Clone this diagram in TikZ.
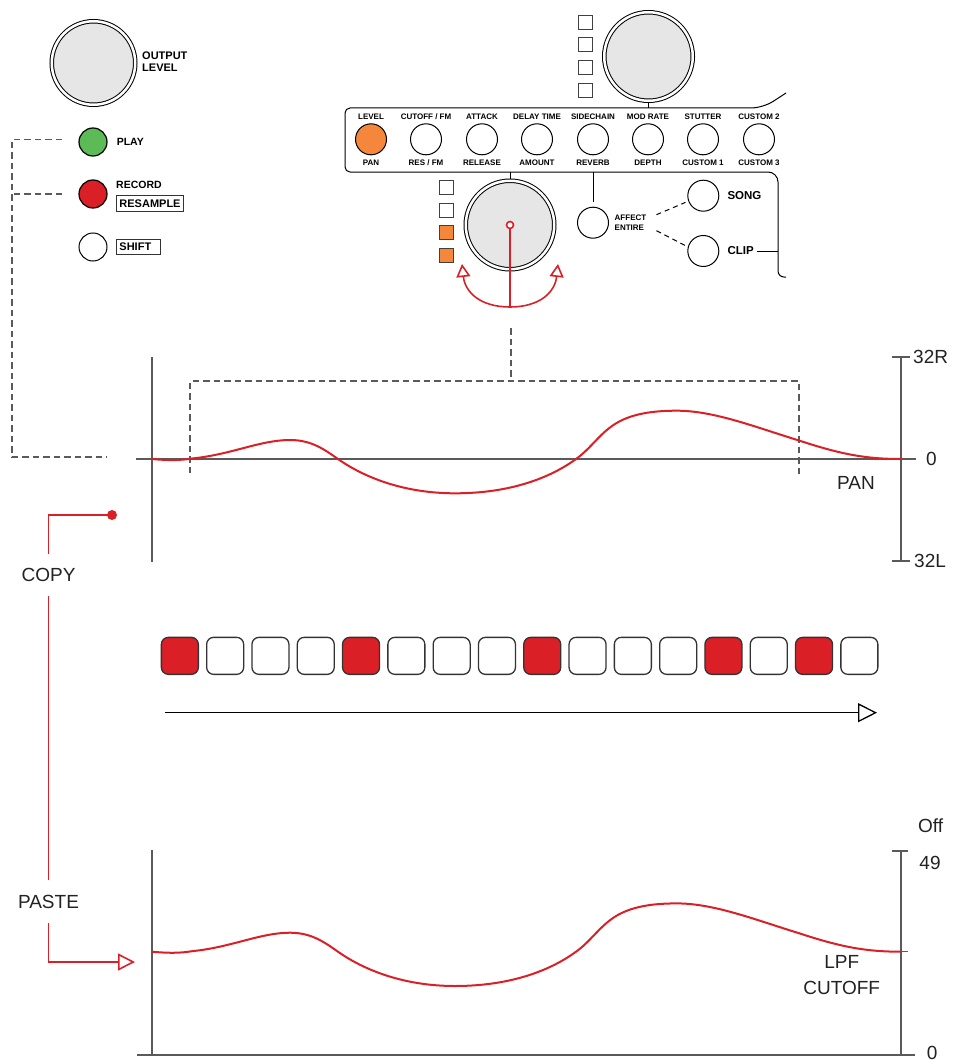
\documentclass[tikz,border=0pt]{standalone}
\usepackage{fontspec}
\setmainfont{Liberation Sans}
\usetikzlibrary{positioning,arrows.meta,backgrounds}
\definecolor{KnobGray}{HTML}{E6E6E6}
\definecolor{PadRed}{HTML}{DA1F26}
\definecolor{PadOrange}{HTML}{F4873B}
\definecolor{PlayGreen}{HTML}{5DBB57}
\definecolor{AxisGray}{HTML}{5A5A5A}
\definecolor{TextDark}{HTML}{222222}
\newcommand\fsl{/}
\newcommand\lfopath{(152,459) .. controls (168,460.5) and (180,460.5) .. (192,458.5)
  .. controls (232,454.5) and (260,440) .. (290,440)
  .. controls (312,440) and (325,450) .. (338,459)
  .. controls (365,478) and (405,493.3) .. (455,493.3)
  .. controls (510,493.3) and (550,478) .. (576,459)
  .. controls (590,449) and (598,436) .. (612,426)
  .. controls (630,413) and (655,410.7) .. (677,410.7)
  .. controls (714,410.7) and (755,427) .. (799,440.5)
  .. controls (840,454) and (865,459) .. (901,459)}

\begin{document}
\begin{tikzpicture}[x=1pt,y=-1pt,
    every node/.style={font=\fontsize{8}{10}\selectfont\bfseries, inner sep=0pt},
    knob/.style={circle,draw,line width=1pt,minimum size=31pt,fill=white},
    bigknob/.style={circle,draw,line width=1pt,double,double distance=2.5pt,
                    fill=KnobGray,minimum size=88.5pt},
    led/.style={draw=black!75,line width=0.9pt,minimum size=14pt,fill=white},
    tag/.style={draw=black!80,line width=0.9pt,inner xsep=3pt,inner ysep=3.8pt,
                font=\fontsize{11}{12}\selectfont\bfseries},
    btnlbl/.style={font=\fontsize{10.5}{12}\selectfont\bfseries},
    pad/.style={draw=black!80,line width=1.3pt,rounded corners=7pt,minimum size=37pt},
    big/.style={font=\fontsize{19}{26.6}\selectfont, text=TextDark},
    axis/.style={AxisGray,line width=1.4pt},
    guide/.style={AxisGray,line width=1.5pt,dash pattern=on 6.5pt off 4pt},
    curve/.style={PadRed,line width=2pt},
    redline/.style={PadRed,line width=1.6pt}]
  \useasboundingbox (0,0) rectangle (962,1062);

  % left column
  \node[bigknob, minimum size=83.5pt] (outknob) at (93.5,63) {};
  \node[anchor=west, font=\fontsize{11}{12}\selectfont\bfseries, align=left]
    (outlbl) at (142,62) {OUTPUT\\LEVEL};
  \node[knob, minimum size=28pt, fill=PlayGreen, line width=1.2pt] (play) at (93,142) {};
  \node[btnlbl, right=9pt of play] (playlbl) {PLAY};
  \node[knob, minimum size=28pt, fill=PadRed, line width=1.2pt] (rec) at (93,194) {};
  \node[btnlbl, anchor=west] (reclbl) at (116,185) {RECORD};
  \node[tag, anchor=west] (resample) at (116,203.5) {RESAMPLE};
  \node[knob, minimum size=28pt] (shiftbtn) at (93,247) {};
  \node[tag, anchor=west, text width=37.5pt] (shiftlbl) at (116,247) {SHIFT};

  \coordinate (dashL) at (12,457);
  \coordinate (panIn) at (107,457);
  \draw[guide] ([xshift=-16pt,yshift=2.5pt]play.west) -| (dashL) -- (panIn);
  \draw[guide] ([xshift=-16pt]rec.west) -- (dashL |- rec.west);

  % control panel
  \coordinate (pnT) at (345,108);
  \coordinate (pnB) at (345,172);
  \coordinate (pnR) at (778,172);
  \draw[line width=1pt] (786,93) [rounded corners=12pt] -- (763,108)
    [rounded corners=5pt] -- (pnT) -- (pnB) [rounded corners=10pt] -- (pnR)
    [rounded corners=6pt] -- (778,277) -- (786,277);

  \node[bigknob] (selknob) at (648.5,56.5) {};
  \foreach \y [count=\j] in {22,44.7,67.4,90}
    \node[led] (tl\j) at (585,\y) {};

  \foreach \x/\top/\bot/\col [count=\i] in {371/LEVEL/PAN/PadOrange,
      426/CUTOFF \fsl{} FM/RES \fsl{} FM/white, 482/ATTACK/RELEASE/white,
      537/DELAY TIME/AMOUNT/white, 593/SIDECHAIN/REVERB/white,
      648/MOD RATE/DEPTH/white, 703/STUTTER/CUSTOM 1/white,
      759/CUSTOM 2/CUSTOM 3/white}{
    \node[knob, fill=\col] (k\i) at (\x,139.3) {};
    \node (kt\i) at (\x,117) {\top};
    \node (kb\i) at (\x,163) {\bot};
  }

  \node[bigknob] (modknob) at (510,225) {};
  \foreach \y/\col [count=\j] in {187.5/white,210.2/white,232.9/PadOrange,255.6/PadOrange}
    \node[led, fill=\col] (ml\j) at (446.5,\y) {};
  \node[circle, draw=PadRed, line width=1.6pt, fill=white, minimum size=7pt]
    (pivot) at (510,225) {};
  \coordinate (swing) at (510,307);
  \coordinate (swingL) at (462,264);
  \coordinate (swingR) at (558,264);
  \draw[redline] (pivot.south) -- (swing);
  \draw[redline, -{Triangle[open,length=13pt,width=14pt]}]
    (swing) .. controls (480,307) and (465,292) .. (swingL);
  \draw[redline, -{Triangle[open,length=13pt,width=14pt]}]
    (swing) .. controls (540,307) and (555,292) .. (swingR);

  \node[knob] (affect) at (593,222.7) {};
  \node[right=5.5pt of affect, align=left] (affectlbl) {AFFECT\\ENTIRE};
  \node[knob] (songbtn) at (703.3,195.7) {};
  \node[right=8pt of songbtn, font=\fontsize{11.5}{12}\selectfont\bfseries] (songlbl) {SONG};
  \node[knob] (clipbtn) at (703.3,251) {};
  \node[right=8pt of clipbtn, font=\fontsize{11.5}{12}\selectfont\bfseries] (cliplbl) {CLIP};
  \draw[line width=1pt, dash pattern=on 5pt off 4pt, shorten >=3pt]
    ([xshift=10pt]affectlbl.north east) -- (songbtn.200);
  \draw[line width=1pt, dash pattern=on 5pt off 4pt, shorten >=3pt]
    ([xshift=10pt]affectlbl.south east) -- (clipbtn.165);
  \draw[line width=1pt] ([xshift=3pt]cliplbl.east) -- (cliplbl.east -| pnR);

  \begin{scope}[on background layer]
    \draw[line width=1pt] (selknob.south) -- (selknob.south |- pnT);
    \draw[line width=1pt] (modknob.north) -- (modknob.north |- pnB);
    \draw[line width=1pt] (affect.north |- pnB) -- ([yshift=5pt]affect.north);
  \end{scope}

  % pan lane
  \draw[axis] (152,357) -- (152,562);
  \draw[axis] (136,459) -- (916,459);
  \draw[axis] (901,357) -- (901,561);
  \draw[axis] (892,357) -- (910,357) (892,561) -- (910,561);
  \node[big, anchor=west] (panTop) at (913,357) {32R};
  \node[big, anchor=west] (panMid) at (926,459) {0};
  \node[big, anchor=west] (panBot) at (914,561) {32L};
  \node[big] (panlbl) at (856,482.7) {PAN};
  \draw[guide] (190,473) -- (190,381) -- (799,381) -- (799,477);
  \draw[guide] (511,328) -- (511,381);
  \draw[curve] \lfopath;

  % steps
  \foreach \col [count=\i] in {PadRed,white,white,white,PadRed,white,white,white,
      PadRed,white,white,white,PadRed,white,PadRed,white}
    \node[pad, fill=\col] (s\i) at ({179.85+45.3*(\i-1)},655.85) {};
  \coordinate (seqA) at (165,712.7);
  \coordinate (seqB) at (877,712.7);
  \draw[line width=1.3pt, -{Triangle[open,length=19pt,width=19pt]}] (seqA) -- (seqB);

  % cutoff lane
  \draw[axis] (152,850) -- (152,1055);
  \draw[axis] (137,1055) -- (915,1055);
  \draw[axis] (901,851) -- (901,1055);
  \draw[axis] (892,851) -- (908,851) (892,951.7) -- (908,951.7);
  \node[big] (cutOff) at (930.7,826) {Off};
  \node[big] (cutTop) at (930,863) {49};
  \node[big, anchor=west] (cutBot) at (926.7,1053) {0};
  \node[big, align=center] (cutlbl) at (841.7,975) {LPF\\CUTOFF};
  \draw[curve, yshift=-492.7pt] \lfopath;

  % copy / paste
  \node[big, inner ysep=14.5pt, inner xsep=2pt] (copy) at (48.5,575) {COPY};
  \node[big, inner ysep=14.5pt, inner xsep=2pt] (paste) at (48.5,901.7) {PASTE};
  \node[circle, fill=PadRed, minimum size=10pt] (copydot) at (112,515) {};
  \coordinate (pasteTip) at (135,962);
  \draw[redline] (copydot.center) -| (copy.north);
  \draw[redline] (copy.south) -- (paste.north);
  \draw[redline, -{Triangle[open,length=17pt,width=17pt]}] (paste.south) |- (pasteTip);
\end{tikzpicture}
\end{document}
